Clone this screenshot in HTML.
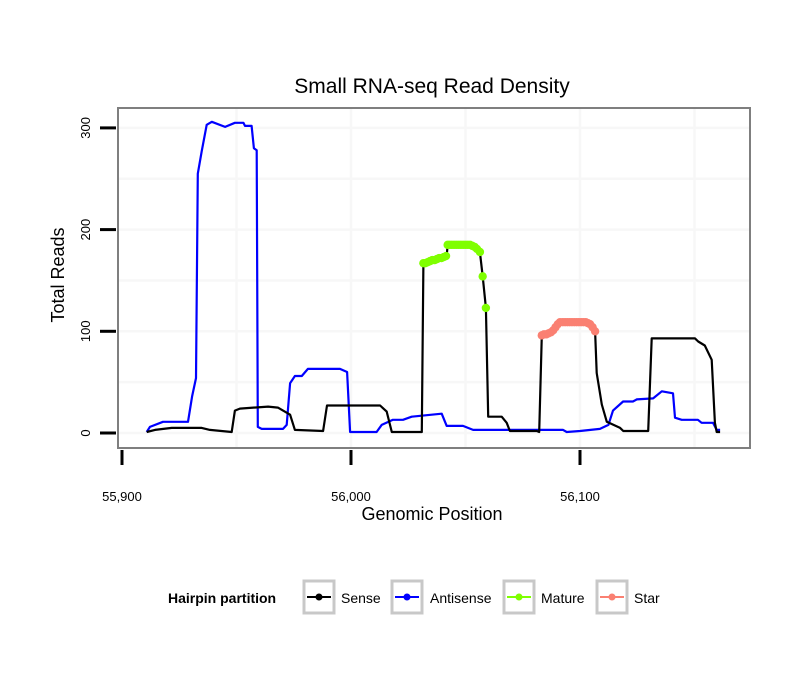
<!DOCTYPE html>
<html><head><meta charset="utf-8"><style>
body{margin:0;background:#fff;}
svg{display:block;font-family:"Liberation Sans",sans-serif;}
</style></head><body>
<svg id="chart" width="810" height="690" viewBox="0 0 810 690">
<rect x="0" y="0" width="810" height="690" fill="#fff"/>
<text x="432" y="93" font-size="21" text-anchor="middle" fill="#000">Small RNA-seq Read Density</text>
<g id="grid"></g>
<g id="series"></g>
<rect x="118" y="108" width="632" height="340" fill="none" stroke="#7f7f7f" stroke-width="2"/>
<g id="axes"></g>
<text transform="translate(64,275) rotate(-90)" font-size="18" text-anchor="middle">Total Reads</text>
<text x="432" y="520" font-size="18" text-anchor="middle">Genomic Position</text>
<g>
<text x="168" y="603" font-size="14" font-weight="bold">Hairpin partition</text>
<g><rect x="304" y="581" width="30" height="32" fill="#fff" stroke="#c8c8c8" stroke-width="3"/><line x1="307" y1="597" x2="331" y2="597" stroke="#000" stroke-width="2"/><circle cx="319" cy="597" r="3.5" fill="#000"/><text x="341" y="603" font-size="14">Sense</text></g>
<g><rect x="392" y="581" width="30" height="32" fill="#fff" stroke="#c8c8c8" stroke-width="3"/><line x1="395" y1="597" x2="419" y2="597" stroke="#0000ff" stroke-width="2"/><circle cx="407" cy="597" r="3.5" fill="#0000ff"/><text x="430" y="603" font-size="14">Antisense</text></g>
<g><rect x="504" y="581" width="30" height="32" fill="#fff" stroke="#c8c8c8" stroke-width="3"/><line x1="507" y1="597" x2="531" y2="597" stroke="#7fff00" stroke-width="2"/><circle cx="519" cy="597" r="3.5" fill="#7fff00"/><text x="541" y="603" font-size="14">Mature</text></g>
<g><rect x="597" y="581" width="30" height="32" fill="#fff" stroke="#c8c8c8" stroke-width="3"/><line x1="600" y1="597" x2="624" y2="597" stroke="#fa8072" stroke-width="2"/><circle cx="612" cy="597" r="3.5" fill="#fa8072"/><text x="634" y="603" font-size="14">Star</text></g>
</g>
</svg>
<script>
const xTicks=[55900,56000,56100];
const xTickLabels=["55,900","56,000","56,100"];
const yTicks=[0,100,200,300];
const yTickLabels=["0","100","200","300"];
const antisensePos=[55910.8,55912.2,55917.9,55928.8,55930.6,55932.3,55933.1,55934.8,55937.0,55939.2,55945.0,55949.3,55953.0,55953.7,55956.6,55957.6,55958.8,55959.3,55961.0,55970.3,55971.9,55973.4,55975.5,55978.5,55981.2,55995.2,55998.3,55999.6,56011.2,56013.4,56018.3,56022.7,56026.5,56039.6,56041.8,56048.9,56053.3,56072.4,56092.6,56094.2,56100.0,56108.7,56112.4,56114.4,56118.8,56123.1,56124.8,56131.9,56135.7,56140.6,56141.5,56144.4,56151.5,56153.1,56158.1,56159.7,56161.2];
const antisenseVal=[1,6,11,11,36,54,255,277,303,306,301,305,305,302,302,280,278,6,4,4,8,49,56,56,63,63,60,1,1,8,13,13,16,19,7,7,3,3,3,1,2,4,8,22,31,31,33,34,41,39,15,13,13,10,10,3,3];
const sensePos=[55910.8,55914.4,55921.7,55934.8,55938.4,55947.9,55949.3,55951.5,55963.8,55968.1,55973.4,55975.5,55987.8,55989.5,56012.7,56015.6,56017.8,56030.9,56031.6,56041.8,56042.2,56052.0,56056.3,56057.5,56058.9,56059.9,56065.8,56068.0,56069.4,56081.1,56082.2,56083.3,56088.3,56091.3,56104.4,56106.6,56107.3,56109.5,56111.7,56117.5,56118.9,56129.8,56131.3,56150.2,56151.6,56154.5,56157.5,56158.9,56159.7,56161.2];
const senseVal=[1,3,5,5,3,1,22,24,26,25,18,3,2,27,27,21,1,1,167,174,185,185,178,154,123,16,16,10,2,2,1,96,101,109,109,100,59,28,11,5,2,2,93,93,90,86,72,10,1,1];
const maturePos=[56031.6,56032.5,56033.5,56034.5,56035.5,56036.5,56037.5,56038.5,56039.5,56040.5,56041.5,56042.2,56043,56044,56045,56046,56047,56048,56049,56050,56051,56052,56053,56054,56055,56056.3,56057.5,56058.9];
const matureVal=[167,167,168,169,170,170,171,172,172,173,174,185,185,185,185,185,185,185,185,185,185,185,184,183,181,178,154,123];
const starPos=[56083.3,56084.3,56085.3,56086.3,56087.3,56088.3,56089.3,56090.3,56091.3,56092.5,56093.5,56094.5,56095.5,56096.5,56097.5,56098.5,56099.5,56100.5,56101.5,56102.5,56103.5,56104.4,56105.5,56106.6];
const starVal=[96,97,97,98,99,101,104,107,109,109,109,109,109,109,109,109,109,109,109,109,108,107,104,100];

const NS='http://www.w3.org/2000/svg';
function sx(v){return 122+(v-55900)*2.29;}
function sy(v){return 433-v*1.017;}
function mk(tag,attrs,parent){const e=document.createElementNS(NS,tag);for(const k in attrs)e.setAttribute(k,attrs[k]);parent.appendChild(e);return e;}
const grid=document.getElementById('grid'),axes=document.getElementById('axes'),series=document.getElementById('series');
[0,50,100,150,200,250,300].forEach(v=>{const y=sy(v);if(y>110&&y<446){const l=mk('line',{x1:119,x2:749,y1:y,y2:y,stroke:'#f7f7f7','stroke-width':2.5},grid);

}});
[55950,56000,56050,56100,56150].forEach(v=>{const x=sx(v);const l=mk('line',{x1:x,x2:x,y1:109,y2:447,stroke:'#f7f7f7','stroke-width':2.5},grid);

});
xTicks.forEach((v,i)=>{const x=sx(v);const t=mk('line',{x1:x,x2:x,y1:450,y2:465,stroke:'#000','stroke-width':3},axes);


const tx=mk('text',{x:x,y:501,'font-size':13,'text-anchor':'middle'},axes);tx.textContent=xTickLabels[i];

});
yTicks.forEach((v,i)=>{const y=sy(v);const t=mk('line',{x1:100,x2:116,y1:y,y2:y,stroke:'#000','stroke-width':3},axes);


const tx=mk('text',{transform:`translate(90,${y}) rotate(-90)`,'font-size':13,'text-anchor':'middle'},axes);tx.textContent=yTickLabels[i];

});
function line(px,py,color,name){const d=px.map((p,i)=>(i?'L':'M')+sx(p).toFixed(1)+','+sy(py[i]).toFixed(1)).join('');
const e=mk('path',{d:d,fill:'none',stroke:color,'stroke-width':2.2,'stroke-linejoin':'round'},series);

}
function pts(px,py,color,name){px.forEach((p,i)=>{const c=mk('circle',{cx:sx(p),cy:sy(py[i]),r:4.2,fill:color},series);

});}
line(antisensePos,antisenseVal,'#0000ff','antisense-line');
line(sensePos,senseVal,'#000000','sense-line');
pts(maturePos,matureVal,'#7fff00','mature-point');
pts(starPos,starVal,'#fa8072','star-point');
</script>
</body></html>
